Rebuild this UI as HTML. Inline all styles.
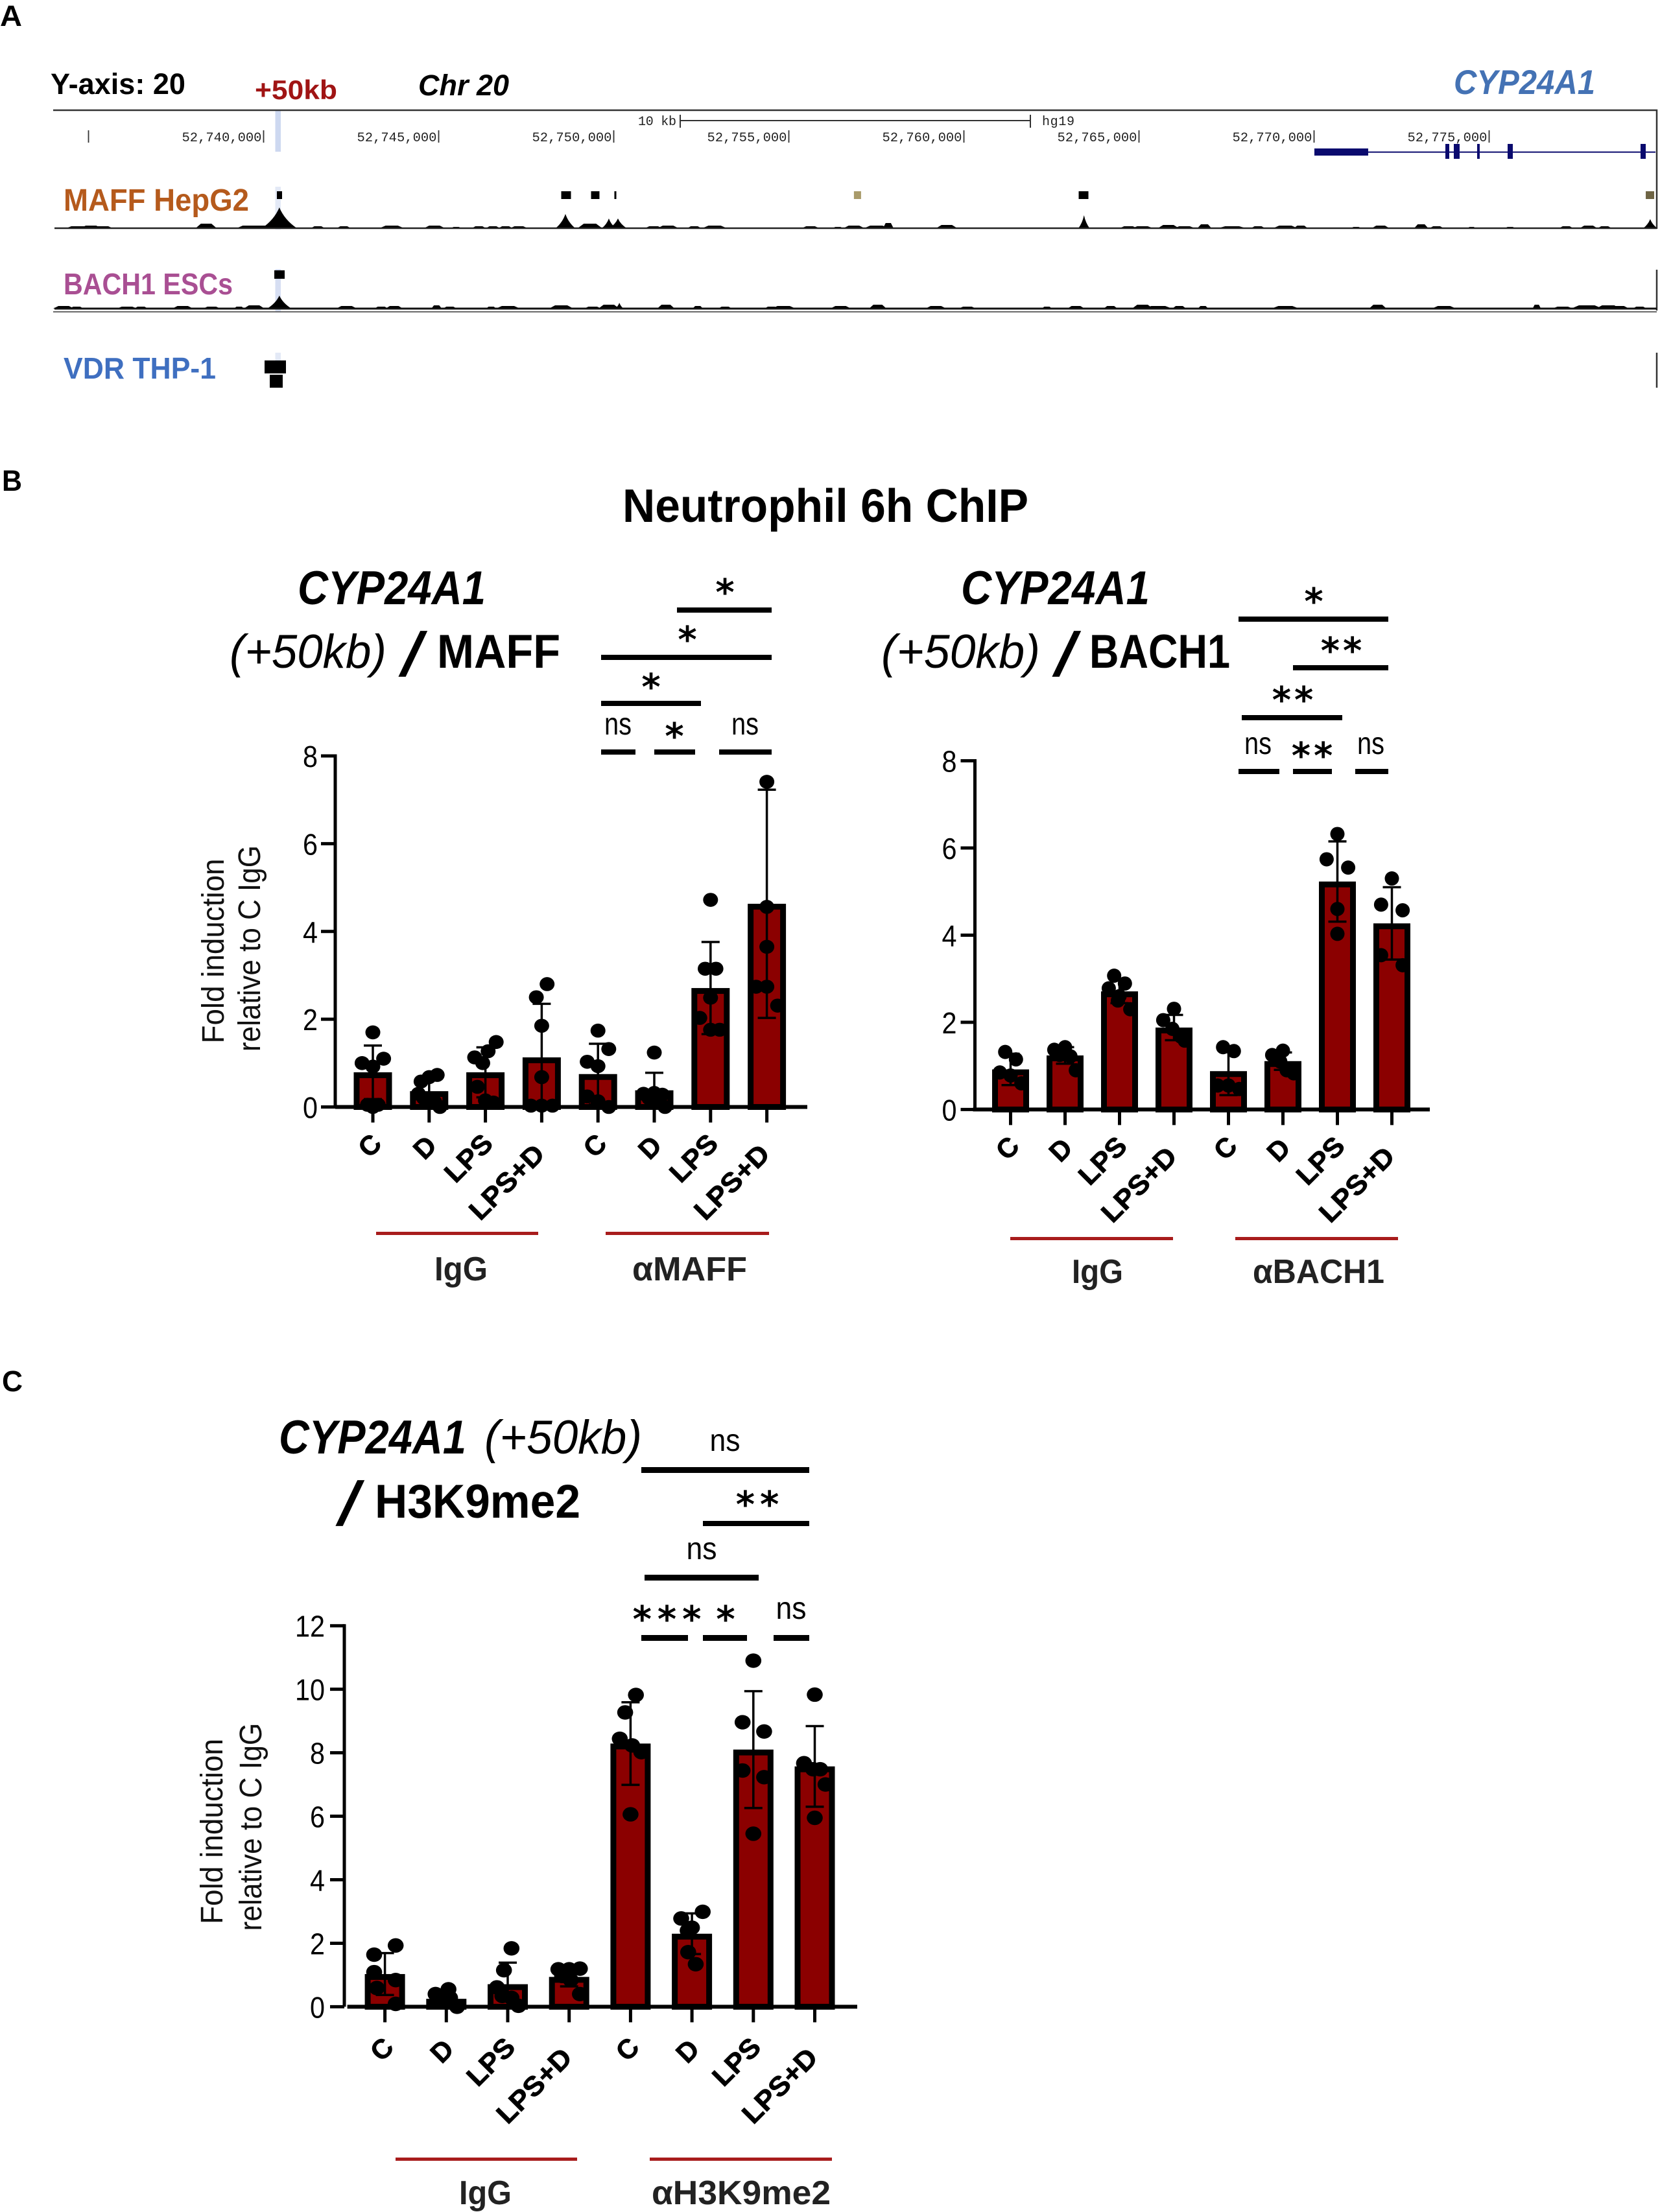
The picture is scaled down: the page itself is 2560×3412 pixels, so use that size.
<!DOCTYPE html>
<html lang="en">
<head>
<meta charset="utf-8">
<title>CYP24A1 ChIP figure</title>
<style>
html,body{margin:0;padding:0;background:#fff;}
svg{display:block;font-family:"Liberation Sans",sans-serif;}
.b{font-weight:700;}
.star{font-family:"DejaVu Sans",sans-serif;font-weight:700;font-size:56px;text-anchor:middle;fill:#000;}
.ns{font-size:48px;text-anchor:middle;fill:#000;}
</style>
</head>
<body>
<svg id="fig" xmlns="http://www.w3.org/2000/svg" width="2560" height="3412" viewBox="0 0 2560 3412">
<rect x="0" y="0" width="2560" height="3412" fill="#fff"/>

<!-- Panel letters -->
<text class="b" x="0" y="40" font-size="45" textLength="34" lengthAdjust="spacingAndGlyphs">A</text>
<text class="b" x="3" y="757" font-size="45" textLength="31" lengthAdjust="spacingAndGlyphs">B</text>
<text class="b" x="3" y="2146" font-size="45" textLength="32" lengthAdjust="spacingAndGlyphs">C</text>

<!-- Panel A headings -->
<text class="b" x="78" y="145" font-size="45" textLength="208" lengthAdjust="spacingAndGlyphs">Y-axis: 20</text>
<text class="b" x="393" y="153" font-size="42" fill="#a01414" textLength="127" lengthAdjust="spacingAndGlyphs">+50kb</text>
<text class="b" font-style="italic" x="645" y="147" font-size="45" textLength="140" lengthAdjust="spacingAndGlyphs">Chr 20</text>
<text class="b" font-style="italic" x="2242" y="145" font-size="53" fill="#4472b4" textLength="218" lengthAdjust="spacingAndGlyphs">CYP24A1</text>

<g id="browser"></g>

<text class="b" x="98" y="325" font-size="48" fill="#b55a1c" textLength="286" lengthAdjust="spacingAndGlyphs">MAFF HepG2</text>
<text class="b" x="98" y="454" font-size="46" fill="#a94f93" textLength="261" lengthAdjust="spacingAndGlyphs">BACH1 ESCs</text>
<text class="b" x="98" y="584" font-size="46" fill="#3f6fc0" textLength="235" lengthAdjust="spacingAndGlyphs">VDR THP-1</text>

<!-- Panel B headings -->
<text class="b" x="960" y="805" font-size="72" textLength="626" lengthAdjust="spacingAndGlyphs">Neutrophil 6h ChIP</text>
<text class="b" font-style="italic" x="459" y="932" font-size="73" textLength="290" lengthAdjust="spacingAndGlyphs">CYP24A1</text>
<text font-style="italic" x="354" y="1030" font-size="73" textLength="242" lengthAdjust="spacingAndGlyphs">(+50kb)</text>
<text class="b" transform="translate(614,1042) skewX(-16)" font-size="95">/</text>
<text class="b" x="674" y="1030" font-size="73" textLength="190" lengthAdjust="spacingAndGlyphs">MAFF</text>
<text class="b" font-style="italic" x="1482" y="932" font-size="73" textLength="291" lengthAdjust="spacingAndGlyphs">CYP24A1</text>
<text font-style="italic" x="1359" y="1030" font-size="73" textLength="245" lengthAdjust="spacingAndGlyphs">(+50kb)</text>
<text class="b" transform="translate(1622,1042) skewX(-16)" font-size="95">/</text>
<text class="b" x="1680" y="1030" font-size="73" textLength="217" lengthAdjust="spacingAndGlyphs">BACH1</text>

<!-- Panel C headings -->
<text class="b" font-style="italic" x="430" y="2242" font-size="73" textLength="289" lengthAdjust="spacingAndGlyphs">CYP24A1</text>
<text font-style="italic" x="747" y="2242" font-size="73" textLength="243" lengthAdjust="spacingAndGlyphs">(+50kb)</text>
<text class="b" transform="translate(517,2352) skewX(-16)" font-size="95">/</text>
<text class="b" x="578" y="2341" font-size="73" textLength="317" lengthAdjust="spacingAndGlyphs">H3K9me2</text>

<!-- MAFF significance -->
<g>
<text class="star" x="1118" y="933">*</text>
<rect x="1044" y="937" width="146" height="8"/>
<text class="star" x="1060" y="1006">*</text>
<rect x="927" y="1010" width="263" height="8"/>
<text class="star" x="1004" y="1079">*</text>
<rect x="927" y="1081" width="154" height="8"/>
<text class="ns" x="953" y="1133" textLength="42" lengthAdjust="spacingAndGlyphs">ns</text>
<text class="star" x="1040" y="1155">*</text>
<text class="ns" x="1149" y="1133" textLength="42" lengthAdjust="spacingAndGlyphs">ns</text>
<rect x="927" y="1156" width="53" height="8"/>
<rect x="1009" y="1156" width="63" height="8"/>
<rect x="1109" y="1156" width="81" height="8"/>
</g>

<!-- BACH1 significance -->
<g>
<text class="star" x="2026" y="947">*</text>
<rect x="1910" y="951" width="231" height="8"/>
<text class="star" x="2071" y="1023" letter-spacing="5">**</text>
<rect x="1994" y="1026" width="147" height="8"/>
<text class="star" x="1996" y="1099" letter-spacing="5">**</text>
<rect x="1915" y="1103" width="155" height="8"/>
<text class="ns" x="1940" y="1163" textLength="42" lengthAdjust="spacingAndGlyphs">ns</text>
<text class="star" x="2026" y="1185" letter-spacing="5">**</text>
<text class="ns" x="2114" y="1163" textLength="42" lengthAdjust="spacingAndGlyphs">ns</text>
<rect x="1910" y="1186" width="63" height="8"/>
<rect x="1994" y="1186" width="60" height="8"/>
<rect x="2090" y="1186" width="51" height="8"/>
</g>

<!-- H3K9me2 significance -->
<g>
<text class="ns" x="1118" y="2238" textLength="47" lengthAdjust="spacingAndGlyphs">ns</text>
<rect x="989" y="2263" width="259" height="9"/>
<text class="star" x="1172" y="2340" letter-spacing="8">**</text>
<rect x="1084" y="2346" width="164" height="8"/>
<text class="ns" x="1082" y="2405" textLength="47" lengthAdjust="spacingAndGlyphs">ns</text>
<rect x="994" y="2429" width="176" height="9"/>
<text class="star" x="1033" y="2517" letter-spacing="9">***</text>
<text class="star" x="1119" y="2517">*</text>
<text class="ns" x="1220" y="2497" textLength="47" lengthAdjust="spacingAndGlyphs">ns</text>
<rect x="989" y="2522" width="72" height="9"/>
<rect x="1084" y="2522" width="68" height="9"/>
<rect x="1193" y="2522" width="55" height="9"/>
</g>

<!-- Group labels -->
<rect x="580" y="1900" width="250" height="5" fill="#a81c1c"/>
<rect x="934" y="1900" width="252" height="5" fill="#a81c1c"/>
<text class="b" x="670" y="1975" font-size="52" fill="#222" textLength="82" lengthAdjust="spacingAndGlyphs">IgG</text>
<text class="b" x="975" y="1975" font-size="52" fill="#222" textLength="177" lengthAdjust="spacingAndGlyphs">αMAFF</text>
<rect x="1558" y="1908" width="251" height="5" fill="#a81c1c"/>
<rect x="1905" y="1908" width="251" height="5" fill="#a81c1c"/>
<text class="b" x="1653" y="1979" font-size="52" fill="#222" textLength="79" lengthAdjust="spacingAndGlyphs">IgG</text>
<text class="b" x="1932" y="1979" font-size="52" fill="#222" textLength="203" lengthAdjust="spacingAndGlyphs">αBACH1</text>
<rect x="610" y="3328" width="280" height="5" fill="#a81c1c"/>
<rect x="1002" y="3328" width="281" height="5" fill="#a81c1c"/>
<text class="b" x="708" y="3400" font-size="52" fill="#222" textLength="81" lengthAdjust="spacingAndGlyphs">IgG</text>
<text class="b" x="1005" y="3400" font-size="52" fill="#222" textLength="276" lengthAdjust="spacingAndGlyphs">αH3K9me2</text>

<!-- Y axis titles -->
<text transform="translate(345,1467) rotate(-90)" text-anchor="middle" font-size="48" fill="#111" textLength="285" lengthAdjust="spacingAndGlyphs">Fold induction</text>
<text transform="translate(401,1463) rotate(-90)" text-anchor="middle" font-size="48" fill="#111" textLength="318" lengthAdjust="spacingAndGlyphs">relative to C IgG</text>
<text transform="translate(343,2825) rotate(-90)" text-anchor="middle" font-size="48" fill="#111" textLength="286" lengthAdjust="spacingAndGlyphs">Fold induction</text>
<text transform="translate(403,2818) rotate(-90)" text-anchor="middle" font-size="48" fill="#111" textLength="321" lengthAdjust="spacingAndGlyphs">relative to C IgG</text>

<g id="chart-maff"></g>
<g id="chart-bach1"></g>
<g id="chart-h3k9"></g>
</svg>

<script>
/* ---------- bar chart data ---------- */
const categories = ['C','D','LPS','LPS+D','C','D','LPS','LPS+D'];

const maffTicks = [0,2,4,6,8];
const maffMeans = [0.79,0.36,0.79,1.13,0.75,0.38,2.71,4.63];
const maffSD = [0.61,0.33,0.57,1.22,0.69,0.40,1.05,2.60];
const maffDots = [
  [1.7,1.1,1.0,0.92,0.05,0.05,0],
  [0.73,0.68,0.58,0.3,0.2,0.12,0],
  [1.48,1.27,1.13,1.0,0.46,0.15,0.1],
  [2.8,2.5,1.85,0.68,0.03,0.03,0.03],
  [1.74,1.32,1.03,0.93,0.24,0.13,0],
  [1.24,0.3,0.32,0.28,0.2,0.15,0],
  [4.72,3.15,3.15,2.49,2.03,1.76,1.76],
  [7.41,4.56,3.65,2.74,2.74,2.31]
];
const maffSwarmColumns = [
  [0,2,-2,0,-1,1,0],
  [1.5,0,-1.5,-2,-1,1,2],
  [2,0.5,-2,-0.5,-1.5,0,1.5],
  [1,-1,0,0,-2,0,2],
  [0,2,-2,0,-2,0,2],
  [0,-2,0,1.5,-1,0.5,2],
  [0,-1,1,0,-2,0,1.7],
  [0,0,0,-2,0,2]
];

const bach1Ticks = [0,2,4,6,8];
const bach1Means = [0.92,1.24,2.71,1.88,0.88,1.11,5.23,4.27];
const bach1SD = [0.36,0.19,0.27,0.29,0.55,0.2,0.92,0.83];
const bach1Dots = [
  [1.32,1.15,0.85,0.78,0.6],
  [1.37,1.43,1.25,1.22,0.9],
  [3.07,2.89,2.78,2.6,2.5,2.3],
  [2.31,2.05,1.85,1.67,1.58],
  [1.43,1.34,0.55,0.55,0.47],
  [1.35,1.25,1.1,0.9,0.83],
  [6.32,5.74,5.55,4.6,4.03],
  [5.3,4.7,4.57,3.54,3.31]
];
const bach1SwarmColumns = [
  [-1,1,-2,0,2],
  [-2,0,-1,1,2],
  [-1,1,-2,0,-0.3,2],
  [0,-2,-0.3,1.3,2],
  [-1,1,-2,0,2],
  [0,-2,-0.5,0.7,2],
  [0,-2,2,0,0],
  [0,-2,2,-2,2]
];

const h3k9Ticks = [0,2,4,6,8,10,12];
const h3k9Means = [1.03,0.25,0.71,0.94,8.29,2.3,8.1,7.57];
const h3k9SD = [0.66,0.18,0.68,0.3,1.3,0.64,1.84,1.27];
const h3k9Dots = [
  [1.93,1.64,1.09,0.84,0.59,0.09],
  [0.55,0.4,0.28,0.28,0],
  [1.84,1.15,0.61,0.34,0.28,0.03],
  [1.18,1.18,1.2,0.97,0.84,0.4],
  [9.82,9.27,8.44,8.23,8.02,6.06],
  [2.99,2.78,2.49,2.4,1.72,1.34],
  [10.9,8.96,8.67,7.44,7.23,5.45],
  [9.83,7.67,7.48,7.48,7.0,5.95]
];
const h3k9SwarmColumns = [
  [2,-2,-2,2,-1.5,2],
  [0.4,-2,-1,0.7,2],
  [0.7,-0.7,-2,-1,0.7,2],
  [-2,0,2,-1.3,0.3,2],
  [1,-1,-2,0.3,2,0],
  [2,-2,0,-0.8,-0.7,0.7],
  [0,-2,2,-2,2,0],
  [0,-2,-0.3,1,2,0]
];

/* ---------- genome browser data (hg19, chr20) ---------- */
const axisTicksBp = [52735000,52740000,52745000,52750000,52755000,52760000,52765000,52770000,52775000];
const exonStartBp = [52770009,52773750,52773991,52774657,52775528,52779324];
const exonEndBp = [52771546,52773861,52774157,52774731,52775676,52779472];
const maffPeakStartBp = [52740380,52748500,52749352,52750018,52756859,52763278,52779473];
const maffPeakEndBp = [52740528,52748778,52749592,52750074,52757063,52763556,52779713];
const bach1PeakStartBp = [52740306];
const bach1PeakEndBp = [52740602];
const vdrPeakStartBp = [52740028,52740176];
const vdrPeakEndBp = [52740639,52740546];
const maffSignalKb = [52734.66,52734.81,52735.07,52735.34,52735.44,52738.36,52739.58,52739.9,52740.45,52741.55,52742.29,52743.66,52744.88,52745.5,52746.15,52746.55,52746.91,52747.29,52748.62,52749.32,52749.86,52750.12,52751.14,52751.55,52752.3,52752.88,52755.62,52756.4,52756.86,52757.5,52757.84,52759.51,52763.43,52764.7,52765.1,52765.84,52766.3,52766.87,52767.66,52768.4,52769.18,52769.62,52771.2,52771.9,52773.06,52773.5,52774.5,52775.6,52777.2,52777.84,52778.3,52779.6];
const maffSignalHeight = [3,3,4,3,3,7,4,4,32,3,3,4,4,2,3,3,3,3,22,7,15,15,3,4,3,4,3,2,4,4,8,5,20,3,3,5,3,6,3,3,4,4,2,4,6,3,2,2,3,4,3,14];
const maffSignalSpreadKb = [0.3,0.3,0.3,0.3,0.25,0.3,0.35,0.4,0.5,0.2,0.2,0.35,0.3,0.15,0.2,0.2,0.2,0.25,0.28,0.35,0.2,0.25,0.25,0.3,0.2,0.35,0.25,0.15,0.3,0.35,0.15,0.3,0.16,0.25,0.3,0.3,0.3,0.2,0.4,0.2,0.35,0.2,0.15,0.25,0.2,0.2,0.12,0.15,0.2,0.25,0.2,0.2];
const bach1SignalKb = [52734.29,52734.66,52736.1,52736.5,52737.69,52738.52,52739.3,52739.73,52740.45,52742.37,52743.36,52743.73,52744.94,52745.32,52746.5,52746.98,52748.5,52749.4,52749.86,52750.16,52751.49,52752.4,52753.18,52754.5,52754.85,52756.48,52757.54,52759.2,52760.1,52762.37,52763.2,52764.19,52765.1,52765.55,52766.15,52766.83,52769.18,52771.82,52773.71,52776.36,52777.1,52777.79,52778.4,52778.7,52779.3];
const bach1SignalHeight = [4,3,3,3,4,3,3,5,20,4,3,4,5,3,3,4,5,3,6,9,6,4,3,3,4,4,6,4,3,3,4,4,6,4,4,4,4,6,4,6,3,5,5,4,3];
const bach1SignalSpreadKb = [0.3,0.2,0.3,0.2,0.3,0.25,0.15,0.3,0.35,0.3,0.2,0.25,0.15,0.2,0.15,0.35,0.35,0.25,0.3,0.12,0.25,0.15,0.2,0.2,0.35,0.3,0.25,0.3,0.25,0.15,0.25,0.2,0.3,0.4,0.2,0.15,0.4,0.25,0.35,0.12,0.3,0.45,0.35,0.3,0.2];

/* ---------- helpers ---------- */
const NS = 'http://www.w3.org/2000/svg';
function mk(tag, attrs, parent) {
  const el = document.createElementNS(NS, tag);
  for (const k in attrs) el.setAttribute(k, attrs[k]);
  parent.appendChild(el);
  return el;
}

/* label nudges per category (rotated labels, px from tick) */
const labelNudge = {'C':[16,59],'D':[14,62],'LPS':[14,59],'LPS+D':[7,75]};
const labelLength = {'C':30,'D':30,'LPS':85,'LPS+D':144};

function drawBarChart(rootId, prefix, geo, ticks, means, sd, dots, cols) {
  const root = document.getElementById(rootId);
  const maxTick = ticks[ticks.length - 1];
  const yScale = v => geo.y0 - v * (geo.y0 - geo.yTop) / maxTick;
  const xScale = i => geo.x0 + i * geo.step;
  const columnWidth = 8.3;

  means.forEach((m, i) => {
    const cx = xScale(i);
    const bar = mk('rect', {x: cx - geo.barW / 2 + 4.5, y: yScale(m) + 4.5, width: geo.barW - 9, height: Math.max(0, geo.y0 - yScale(m) - 4.5), fill: '#8b0000', stroke: '#000', 'stroke-width': 9}, root);
    
    

    const hi = yScale(m + sd[i]);
    const lo = yScale(Math.max(0, m - sd[i]));
    const err = mk('path', {d: 'M' + cx + ' ' + lo + 'V' + hi + 'M' + (cx - 14) + ' ' + hi + 'H' + (cx + 14) + 'M' + (cx - 14) + ' ' + lo + 'H' + (cx + 14), stroke: '#000', 'stroke-width': 3.5, fill: 'none'}, root);
    
    

    const tick = mk('line', {x1: cx, x2: cx, y1: geo.y0, y2: geo.y0 + 24, stroke: '#000', 'stroke-width': 5}, root);
    
    

    const label = categories[i];
    const nudge = labelNudge[label];
    const lx = cx + nudge[0];
    const ly = geo.y0 + nudge[1] + geo.labelDy;
    const tx = mk('text', {x: 0, y: 0, transform: 'translate(' + lx + ',' + ly + ') rotate(-45)', 'text-anchor': 'end', 'font-size': 42, 'font-weight': 700, fill: '#000', stroke: '#000', 'stroke-width': 0.8, textLength: labelLength[label], lengthAdjust: 'spacingAndGlyphs'}, root);
    tx.textContent = label;
    
    
  });

  const xAxis = mk('line', {x1: geo.x0 - 58, x2: geo.xEnd, y1: geo.y0, y2: geo.y0, stroke: '#000', 'stroke-width': 6}, root);
  
  
  const yAxis = mk('line', {x1: geo.axisX, x2: geo.axisX, y1: geo.yTop - 2.5, y2: geo.y0, stroke: '#000', 'stroke-width': 5}, root);
  
  

  ticks.forEach((t, i) => {
    const y = yScale(t);
    const tk = mk('line', {x1: geo.axisX - 22, x2: geo.axisX, y1: y, y2: y, stroke: '#000', 'stroke-width': 5}, root);
    
    
    const s = String(t);
    const lb = mk('text', {x: geo.axisX - geo.tickGap, y: y + 17, 'text-anchor': 'end', 'font-size': 46, fill: '#000', textLength: 23 * s.length, lengthAdjust: 'spacingAndGlyphs'}, root);
    lb.textContent = s;
    
    
  });

  dots.forEach((series, i) => {
    series.forEach((v, j) => {
      const c = mk('ellipse', {cx: xScale(i) + cols[i][j] * columnWidth, cy: yScale(v), rx: geo.dotRx, ry: geo.dotRy, fill: '#000'}, root);
      
      
    });
  });
}

drawBarChart('chart-maff', 'maff', {x0:575, step:86.8, barW:59, y0:1707.5, yTop:1166, axisX:517, xEnd:1245, tickGap:27, dotRx:11.5, dotRy:10.8, labelDy:0}, maffTicks, maffMeans, maffSD, maffDots, maffSwarmColumns);
drawBarChart('chart-bach1', 'bach1', {x0:1558.5, step:84, barW:57, y0:1711.4, yTop:1173.5, axisX:1503.5, xEnd:2205, tickGap:28, dotRx:11, dotRy:11, labelDy:0}, bach1Ticks, bach1Means, bach1SD, bach1Dots, bach1SwarmColumns);
drawBarChart('chart-h3k9', 'h3k9', {x0:593.6, step:94.7, barW:62, y0:3095.4, yTop:2507.7, axisX:531, xEnd:1322, tickGap:30, dotRx:12.3, dotRy:11.2, labelDy:6}, h3k9Ticks, h3k9Means, h3k9SD, h3k9Dots, h3k9SwarmColumns);

/* ---------- genome browser ---------- */
(function () {
  const root = document.getElementById('browser');
  const bx = bp => 406.5 + (bp - 52740000) * 0.054;
  const kx = kb => bx(kb * 1000);

  const hl = [[170,64,'#cdd8f0'],[288,66,'#e3e9f6'],[415,67,'#d6def2'],[544,12,'#e3e9f6']];
  hl.forEach((h, i) => {
    const r = mk('rect', {x: 424.5, y: h[0], width: 8.5, height: h[1], fill: h[2]}, root);
    
    
  });

  const frame = mk('path', {d: 'M82 170H2555V353M2555 416V479M2555 544V598', fill: 'none', stroke: '#333', 'stroke-width': 2.5}, root);
  
  

  const scale = mk('path', {d: 'M1049 177V197M1049 186H1589M1589 177V197', fill: 'none', stroke: '#333', 'stroke-width': 2}, root);
  
  
  const kbLabel = mk('text', {x: 984, y: 193, 'font-family': '"Liberation Mono",monospace', 'font-size': 20, fill: '#222', textLength: 59}, root);
  kbLabel.textContent = '10 kb';
  
  
  const hg = mk('text', {x: 1607, y: 193, 'font-family': '"Liberation Mono",monospace', 'font-size': 20, fill: '#222', textLength: 50}, root);
  hg.textContent = 'hg19';
  
  

  axisTicksBp.forEach((bp, i) => {
    const x = bx(bp);
    const t = mk('line', {x1: x, x2: x, y1: 201, y2: 220, stroke: '#333', 'stroke-width': 1.8}, root);
    
    
    if (i > 0) {
      const lb = mk('text', {x: x - 3, y: 218, 'text-anchor': 'end', 'font-family': '"Liberation Mono",monospace', 'font-size': 20.5, fill: '#222'}, root);
      lb.textContent = bp.toLocaleString('en-US');
      
      
    }
  });

  const intron = mk('line', {x1: bx(exonEndBp[0]), x2: 2553, y1: 234.6, y2: 234.6, stroke: '#0a0a6e', 'stroke-width': 2}, root);
  
  
  exonStartBp.forEach((s, i) => {
    const isUtr = i === 0;
    const ex = mk('rect', {x: bx(s), width: bx(exonEndBp[i]) - bx(s), y: isUtr ? 229 : 222, height: isUtr ? 11 : 23, fill: '#0a0a6e'}, root);
    
    
  });

  function boxes(starts, ends, y, h, prefix, colorOf) {
    starts.forEach((s, i) => {
      const r = mk('rect', {x: bx(s), y: Array.isArray(y) ? y[i] : y, width: bx(ends[i]) - bx(s), height: h, fill: colorOf(i)}, root);
      
      
    });
  }
  boxes(maffPeakStartBp, maffPeakEndBp, 295, 12, 'maff-called-peak', i => (i === 4 ? '#a99b6a' : i === 6 ? '#6e6444' : '#000'));
  boxes(bach1PeakStartBp, bach1PeakEndBp, 417, 13, 'bach1-called-peak', () => '#000');
  boxes(vdrPeakStartBp, vdrPeakEndBp, [556, 578], 20, 'vdr-called-peak', () => '#000');

  function signal(kbs, hs, spreads, y0, name) {
    let d = '';
    kbs.forEach((k, i) => {
      const x = kx(k), hw = spreads[i] * 54, h = hs[i];
      if (h <= 8) {
        d += 'M' + (x - hw) + ' ' + y0 + 'L' + (x - hw * 0.5) + ' ' + (y0 - h) + 'L' + (x + hw * 0.5) + ' ' + (y0 - h) + 'L' + (x + hw) + ' ' + y0 + 'Z';
      } else {
        d += 'M' + (x - hw) + ' ' + y0 + 'Q' + (x - hw * 0.3) + ' ' + (y0 - h * 0.4) + ' ' + x + ' ' + (y0 - h) + 'Q' + (x + hw * 0.3) + ' ' + (y0 - h * 0.4) + ' ' + (x + hw) + ' ' + y0 + 'Z';
      }
    });
    const p = mk('path', {d: d, fill: '#000'}, root);
    
    
  }
  signal(maffSignalKb, maffSignalHeight, maffSignalSpreadKb, 352, 'maff');
  signal(bach1SignalKb, bach1SignalHeight, bach1SignalSpreadKb, 476, 'bach1');

  const b1 = mk('line', {x1: 84, x2: 2555, y1: 352, y2: 352, stroke: '#222', 'stroke-width': 2.5}, root);
  
  
  const b2 = mk('line', {x1: 84, x2: 2555, y1: 476, y2: 476, stroke: '#111', 'stroke-width': 3}, root);
  
  
  const b3 = mk('line', {x1: 82, x2: 2555, y1: 481, y2: 481, stroke: '#555', 'stroke-width': 1.8}, root);
  
  
})();
</script>
</body>
</html>
